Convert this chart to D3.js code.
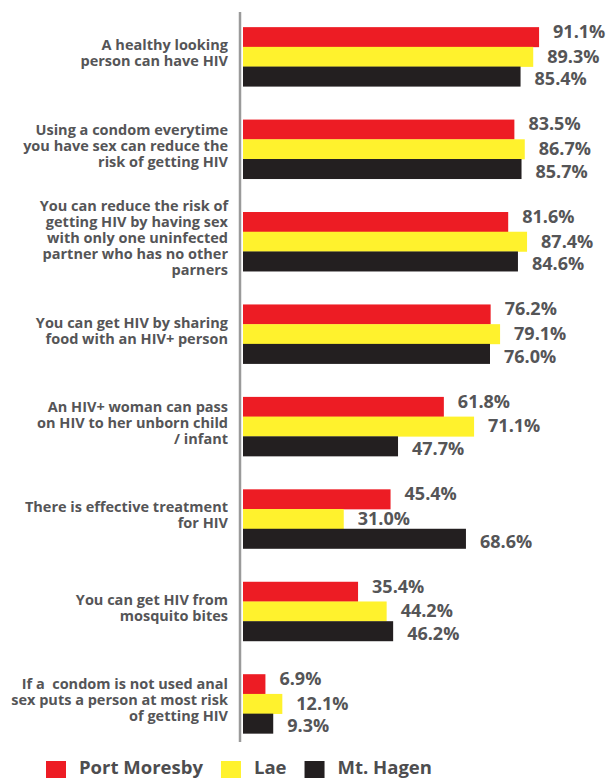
<!DOCTYPE html>
<html>
<head>
<meta charset="utf-8">
<script src="https://cdn.jsdelivr.net/npm/d3@7"></script>
<style>
  html, body { margin: 0; padding: 0; background: #fff; }
  svg { display: block; }
  text { font-family: "Open Sans", "DejaVu Sans", sans-serif; font-weight: 700; }
</style>
</head>
<body>
<svg id="chart" width="606" height="778"></svg>
<script>
const categories = [
  "A healthy looking\nperson can have HIV",
  "Using a condom everytime\nyou have sex can reduce the\nrisk of getting HIV",
  "You can reduce the risk of\ngetting HIV by having sex\nwith only one uninfected\npartner who has no other\nparners",
  "You can get HIV by sharing\nfood with an HIV+ person",
  "An HIV+ woman can pass\non HIV to her unborn child\n/ infant",
  "There is effective treatment\nfor HIV",
  "You can get HIV from\nmosquito bites",
  "If a  condom is not used anal\nsex puts a person at most risk\nof getting HIV"
];
const seriesNames = ["Port Moresby", "Lae", "Mt. Hagen"];
const portMoresby = [91.1, 83.5, 81.6, 76.2, 61.8, 45.4, 35.4, 6.9];
const lae         = [89.3, 86.7, 87.4, 79.1, 71.1, 31.0, 44.2, 12.1];
const mtHagen     = [85.4, 85.7, 84.6, 76.0, 47.7, 68.6, 46.2, 9.3];
const seriesValues = [portMoresby, lae, mtHagen];
const colors = ["#ED1C24", "#FFF22D", "#231F20"];
const labelDy = [-6, -1, 2];
const textColor = "#555557";

const svg = d3.select("#chart");

const x = d3.scaleLinear().domain([0, 100]).range([243, 568]);
const y0 = d3.scaleBand().domain(d3.range(categories.length))
  .range([10.5, 750]).paddingInner(0.36).paddingOuter(0.18);
const y1 = d3.scaleBand().domain(d3.range(seriesNames.length))
  .range([0, y0.bandwidth()]);

// axis line
svg.append("line")
  .attr("x1", 240).attr("x2", 240)
  .attr("y1", 12).attr("y2", 742)
  .attr("stroke", "#9a9a9a").attr("stroke-width", 2.5);

const groups = svg.selectAll("g.grp").data(categories).join("g")
  .attr("class", "grp")
  .attr("transform", (d, i) => `translate(0,${y0(i)})`);

groups.each(function(cat, i) {
  const g = d3.select(this);
  seriesValues.forEach((vals, s) => {
    g.append("rect")
      .attr("x", x(0))
      .attr("y", y1(s))
      .attr("width", x(vals[i]) - x(0))
      .attr("height", y1.bandwidth() + 0.3)
      .attr("fill", colors[s]);
    g.append("text")
      .attr("x", x(vals[i]) + 14)
      .attr("y", y1(s) + y1.bandwidth() / 2 + labelDy[s])
      .attr("dominant-baseline", "central")
      .attr("font-size", 18)
      .attr("fill", textColor)
      .text(vals[i].toFixed(1) + "%");
  });
  const lines = cat.split("\n");
  const lh = 16;
  const cy = y0.bandwidth() / 2 - 4;
  const t = g.append("text")
    .attr("text-anchor", "end")
    .attr("font-size", 14.5)
    .attr("fill", textColor)
    .style("white-space", "pre");
  lines.forEach((ln, k) => {
    t.append("tspan")
      .attr("x", 228)
      .attr("y", cy + (k - (lines.length - 1) / 2) * lh)
      .attr("dominant-baseline", "central")
      .text(ln);
  });
});

// legend
const legend = svg.append("g");
let lx = 46;
seriesNames.forEach((name, s) => {
  legend.append("rect")
    .attr("x", lx).attr("y", 761).attr("width", 20).attr("height", 20)
    .attr("fill", colors[s]);
  const t = legend.append("text")
    .attr("x", lx + 33).attr("y", 774)
    .attr("font-size", 18.5)
    .attr("fill", "#4d4d4f")
    .text(name);
  lx = lx + 33 + t.node().getComputedTextLength() + 18;
});
</script>
</body>
</html>
